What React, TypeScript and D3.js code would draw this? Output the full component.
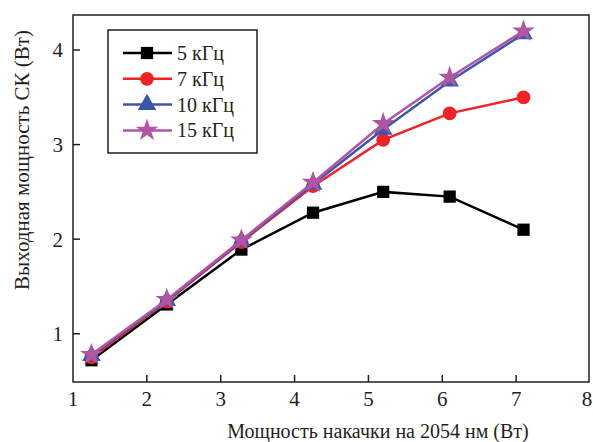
import React, { useEffect, useRef } from 'react';
import * as d3 from 'd3';

// pump power at 2054 nm (W)
const pumpPower = [1.25, 2.27, 3.28, 4.25, 5.2, 6.1, 7.1];

const series5 = [0.72, 1.31, 1.89, 2.28, 2.5, 2.45, 2.1];
const series7 = [0.75, 1.34, 1.97, 2.56, 3.05, 3.33, 3.5];
const series10 = [0.77, 1.35, 1.98, 2.58, 3.16, 3.67, 4.17];
const series15 = [0.78, 1.36, 1.99, 2.6, 3.22, 3.71, 4.2];

const seriesNames = ['5 кГц', '7 кГц', '10 кГц', '15 кГц'];
const seriesColors = ['#000000', '#ee2227', '#3b58a8', '#b054a4'];
const seriesShapes = ['square', 'circle', 'triangle', 'star'];

const xTicks = [1, 2, 3, 4, 5, 6, 7, 8];
const yTicks = [1, 2, 3, 4];

const W = 593;
const H = 442;

const App = () => {
  const svgRef = useRef<SVGSVGElement>(null);

  useEffect(() => {
    const svg = d3.select(svgRef.current);
    svg.selectAll('*').remove();

    const left = 73, right = 590, top = 15, bottom = 382;
    const x = d3.scaleLinear().domain([1, 8]).range([left, right]);
    const y = d3.scaleLinear().domain([0.49, 4.37]).range([bottom, top]);
    const font = '"Liberation Serif", "DejaVu Serif", serif';

    const allSeries = [series5, series7, series10, series15];

    const symbolFor = (shape: string) => {
      if (shape === 'square') return d3.symbol(d3.symbolSquare, 150)();
      if (shape === 'circle') return d3.symbol(d3.symbolCircle, 150)();
      if (shape === 'triangle') return d3.symbol(d3.symbolTriangle, 150)();
      return d3.symbol(d3.symbolStar, 160)();
    };

    // frame
    svg.append('rect')
      .attr('x', left).attr('y', top)
      .attr('width', right - left - 1).attr('height', bottom - top)
      .attr('fill', 'none').attr('stroke', '#231f20').attr('stroke-width', 1.5);

    // x ticks (inward)
    const gx = svg.append('g');
    xTicks.forEach(t => {
      if (t > 1 && t < 8) {
        gx.append('line')
          .attr('x1', x(t)).attr('x2', x(t))
          .attr('y1', bottom).attr('y2', bottom - 7)
          .attr('stroke', '#231f20').attr('stroke-width', 1.5);
      }
      gx.append('text')
        .attr('x', t === 8 ? x(t) - 3 : x(t)).attr('y', bottom + 24)
        .attr('text-anchor', 'middle')
        .attr('font-family', font).attr('font-size', 21)
        .attr('fill', '#231f20')
        .text(t);
    });

    // y ticks (inward)
    const gy = svg.append('g');
    yTicks.forEach(t => {
      gy.append('line')
        .attr('x1', left).attr('x2', left + 7)
        .attr('y1', y(t)).attr('y2', y(t))
        .attr('stroke', '#231f20').attr('stroke-width', 1.5);
      gy.append('text')
        .attr('x', left - 10).attr('y', y(t))
        .attr('dy', '0.35em')
        .attr('text-anchor', 'end')
        .attr('font-family', font).attr('font-size', 21)
        .attr('fill', '#231f20')
        .text(t);
    });

    // axis titles
    svg.append('text')
      .attr('x', 378).attr('y', 438)
      .attr('text-anchor', 'middle')
      .attr('font-family', font).attr('font-size', 20)
      .attr('fill', '#231f20')
      .text('Мощность накачки на 2054 нм (Вт)');

    svg.append('text')
      .attr('transform', `translate(29, 160) rotate(-90)`)
      .attr('text-anchor', 'middle')
      .attr('font-family', font).attr('font-size', 21)
      .attr('fill', '#231f20')
      .text('Выходная мощность СК (Вт)');

    // lines + markers
    const line = d3.line<number>()
      .x((_, i) => x(pumpPower[i]))
      .y(d => y(d));

    allSeries.forEach((vals, si) => {
      const g = svg.append('g');
      g.append('path')
        .datum(vals)
        .attr('d', line)
        .attr('fill', 'none')
        .attr('stroke', seriesColors[si])
        .attr('stroke-width', 2.5);
      g.selectAll('path.m')
        .data(vals)
        .join('path')
        .attr('class', 'm')
        .attr('d', symbolFor(seriesShapes[si]))
        .attr('transform', (d, i) => `translate(${x(pumpPower[i])},${y(d)})`)
        .attr('fill', seriesColors[si]);
    });

    // legend
    const lg = svg.append('g');
    lg.append('rect')
      .attr('x', 108).attr('y', 30)
      .attr('width', 149).attr('height', 123)
      .attr('fill', '#ffffff').attr('stroke', '#231f20').attr('stroke-width', 1.5);
    seriesNames.forEach((name, i) => {
      const cy = 53 + i * 25.8;
      lg.append('line')
        .attr('x1', 123).attr('x2', 172)
        .attr('y1', cy).attr('y2', cy)
        .attr('stroke', seriesColors[i]).attr('stroke-width', 2.5);
      lg.append('path')
        .attr('d', symbolFor(seriesShapes[i]))
        .attr('transform', `translate(147,${cy})`)
        .attr('fill', seriesColors[i]);
      lg.append('text')
        .attr('x', 177).attr('y', cy)
        .attr('dy', '0.35em')
        .attr('font-family', font).attr('font-size', 20)
        .attr('fill', '#231f20')
        .text(name);
    });
  }, []);

  return (
    <svg ref={svgRef} width={W} height={H}
      style={{ position: 'absolute', left: 0, top: 0, background: '#fff' }} />
  );
};

export default App;
